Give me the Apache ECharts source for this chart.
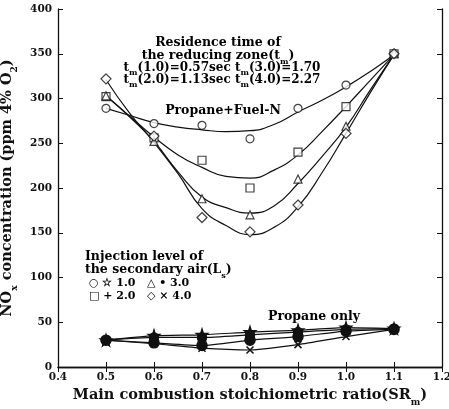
<!DOCTYPE html>
<html>
<head>
<meta charset="utf-8">
<script src="https://cdn.jsdelivr.net/npm/echarts@6/dist/echarts.min.js"></script>
<style>
  html, body { margin: 0; padding: 0; background: #fff; }
  #chart { width: 449px; height: 409px; }
</style>
</head>
<body>
<div id="chart"></div>
<script>
// Main combustion stoichiometric ratio (SRm) of the measured runs
const srm = [0.5, 0.6, 0.7, 0.8, 0.9, 1.0, 1.1];

// Propane + Fuel-N, measured NOx (ppm, 4% O2) per secondary-air injection level
const fuelN_L1 = [289, 272, 270, 255, 289, 315, 350];
const fuelN_L2 = [302, 256, 231, 200, 240, 291, 350];
const fuelN_L3 = [303, 252, 188, 170, 210, 269, 350];
const fuelN_L4 = [322, 258, 167, 151, 181, 261, 350];

// Fitted trend curves for the Propane + Fuel-N runs, sampled every 0.05
const fitX = [0.5, 0.55, 0.6, 0.65, 0.7, 0.75, 0.8, 0.85, 0.9, 0.95, 1.0, 1.05, 1.1];
const fitN_L1 = [289, 281, 273, 268, 265, 263, 264, 271, 285, 298, 313, 330, 349];
const fitN_L2 = [303, 280, 257, 237, 223, 213, 211, 220, 237, 263, 291, 320, 349];
const fitN_L3 = [303, 279, 252, 218, 190, 178, 172, 180, 205, 235, 268, 309, 349];
const fitN_L4 = [321, 283, 251, 216, 177, 158, 148, 156, 179, 217, 261, 306, 349];

// Propane only runs
const propane_L1 = [30, 35, 36, 39, 41, 44, 43];
const propane_L2 = [30, 33, 33, 36, 39, 42, 43];
const propane_L3 = [30, 27, 24, 30, 34, 40, 42];
const propane_L4 = [30, 26, 21, 19, 25, 34, 42];

const xTicks = { min: 0.4, max: 1.2, interval: 0.1 };
const yTicks = { min: 0, max: 400, interval: 50 };

const FONT = 'DejaVu Serif';
const pairs = (xs, ys) => xs.map((x, i) => [x, ys[i]]);

const starPath = 'path://M50,0 L61,35 L98,35 L68,57 L79,91 L50,70 L21,91 L32,57 L2,35 L39,35 Z';

function fitLine(ys) {
  return {
    type: 'line', data: pairs(fitX, ys), smooth: 0.5, symbol: 'none',
    lineStyle: { color: '#111', width: 1.2 }, z: 2, silent: true
  };
}
function openPoints(ys, symbol, size) {
  return {
    type: 'scatter', data: pairs(srm, ys), symbol: symbol, symbolSize: size,
    itemStyle: { color: '#fff', borderColor: '#111', borderWidth: 1.2 }, z: 3
  };
}
function propaneLine(ys, symbol, size, filled) {
  return {
    type: 'line', data: pairs(srm, ys), smooth: 0.2, symbol: symbol, symbolSize: size,
    lineStyle: { color: '#111', width: 1.2 },
    itemStyle: { color: filled ? '#111' : '#fff', borderColor: '#111', borderWidth: 1.5 },
    z: 3
  };
}

const subStyle = { fontFamily: FONT, fontWeight: 'bold', fontSize: 8, color: '#111', verticalAlign: 'bottom', padding: [0, 0, -3, 0] };
const txt = { fontFamily: FONT, fontWeight: 'bold', fontSize: 12.5, color: '#111' };
const titleRich = {
  t: { fontFamily: FONT, fontWeight: 'bold', fontSize: 14.5, color: '#111' },
  s: { fontFamily: FONT, fontWeight: 'bold', fontSize: 9, color: '#111', verticalAlign: 'bottom', padding: [0, 0, -4, 0] }
};

const chart = echarts.init(document.getElementById('chart'));
chart.setOption({
  animation: false,
  backgroundColor: '#fff',
  grid: { left: 58, right: 7, top: 9, bottom: 42, containLabel: false, outerBoundsMode: 'none' },
  xAxis: [{
    type: 'value', min: xTicks.min, max: xTicks.max, interval: xTicks.interval,
    axisLine: { lineStyle: { color: '#111', width: 1.3 } },
    axisTick: { inside: true, length: 5, lineStyle: { color: '#111' } },
    splitLine: { show: false },
    axisLabel: { formatter: v => v.toFixed(1), fontFamily: FONT, fontWeight: 'bold', fontSize: 10.5, color: '#111', margin: 5 },
    name: '{t|Main combustion stoichiometric ratio(SR}{s|m}{t|)}',
    nameLocation: 'middle', nameGap: 21,
    nameTextStyle: { rich: titleRich }
  }, {
    type: 'value', position: 'top', min: xTicks.min, max: xTicks.max, interval: xTicks.interval,
    axisLine: { show: true, lineStyle: { color: '#111', width: 1.3 } },
    axisTick: { show: true, inside: true, length: 5, lineStyle: { color: '#111' } },
    axisLabel: { show: false }, splitLine: { show: false }
  }],
  yAxis: [{
    type: 'value', min: yTicks.min, max: yTicks.max, interval: yTicks.interval,
    axisLine: { show: true, lineStyle: { color: '#111', width: 1.3 } },
    axisTick: { show: true, inside: true, length: 5, lineStyle: { color: '#111' } },
    splitLine: { show: false },
    axisLabel: { fontFamily: FONT, fontWeight: 'bold', fontSize: 10.5, color: '#111', margin: 6 },
    name: '{t|NO}{s|x}{t| concentration (ppm 4% O}{s|2}{t|)}',
    nameLocation: 'middle', nameGap: 35, nameRotate: 90,
    nameTextStyle: { rich: titleRich }
  }, {
    type: 'value', position: 'right', min: yTicks.min, max: yTicks.max, interval: yTicks.interval,
    axisLine: { show: true, lineStyle: { color: '#111', width: 1.3 } },
    axisTick: { show: true, inside: true, length: 5, lineStyle: { color: '#111' } },
    axisLabel: { show: false }, splitLine: { show: false }
  }],
  series: [
    fitLine(fitN_L1), fitLine(fitN_L2), fitLine(fitN_L3), fitLine(fitN_L4),
    openPoints(fuelN_L1, 'circle', 8),
    openPoints(fuelN_L2, 'rect', 8),
    openPoints(fuelN_L3, 'triangle', 8),
    openPoints(fuelN_L4, 'diamond', 10),
    propaneLine(propane_L1, starPath, 11, true),
    propaneLine(propane_L2, 'circle', 9, true),
    propaneLine(propane_L3, 'circle', 10, true),
    propaneLine(propane_L4, 'path://M0,0 L10,10 M10,0 L0,10', 7, false)
  ],
  graphic: [
    { type: 'text', x: 218, y: 43, style: { text: 'Residence time of', align: 'center', verticalAlign: 'middle', ...txt } },
    { type: 'text', x: 218, y: 56, style: {
      text: '{t|the reducing zone(t}{s|m}{t|)}', align: 'center', verticalAlign: 'middle',
      rich: { t: txt, s: subStyle } } },
    { type: 'text', x: 222, y: 68, style: {
      text: '{t|t}{s|m}{t|(1.0)=0.57sec t}{s|m}{t|(3.0)=1.70}', align: 'center', verticalAlign: 'middle',
      rich: { t: { ...txt, fontSize: 12 }, s: subStyle } } },
    { type: 'text', x: 222, y: 80, style: {
      text: '{t|t}{s|m}{t|(2.0)=1.13sec t}{s|m}{t|(4.0)=2.27}', align: 'center', verticalAlign: 'middle',
      rich: { t: { ...txt, fontSize: 12 }, s: subStyle } } },
    { type: 'text', x: 223, y: 111, style: { text: 'Propane+Fuel-N', align: 'center', verticalAlign: 'middle', ...txt } },
    { type: 'text', x: 85, y: 257, style: { text: 'Injection level of', verticalAlign: 'middle', ...txt } },
    { type: 'text', x: 85, y: 270, style: {
      text: '{t|the secondary air(L}{s|s}{t|)}', verticalAlign: 'middle',
      rich: { t: txt, s: subStyle } } },
    { type: 'text', x: 89, y: 283, style: { text: '○ ☆ 1.0   △ • 3.0', verticalAlign: 'middle', ...txt, fontSize: 11 } },
    { type: 'text', x: 89, y: 296, style: { text: '□ + 2.0   ◇ × 4.0', verticalAlign: 'middle', ...txt, fontSize: 11 } },
    { type: 'text', x: 314, y: 317, style: { text: 'Propane only', align: 'center', verticalAlign: 'middle', ...txt } }
  ]
});
</script>
</body>
</html>
